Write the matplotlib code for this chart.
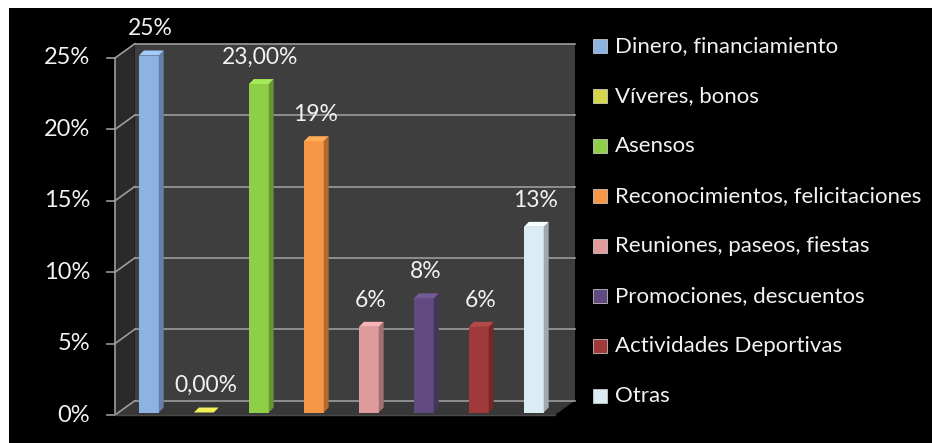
import matplotlib.pyplot as plt
from matplotlib.patches import Polygon, Rectangle
import matplotlib.colors as mcolors

# datos de la encuesta
categorias = ['Dinero, financiamiento', 'Víveres, bonos', 'Asensos',
              'Reconocimientos, felicitaciones', 'Reuniones, paseos, fiestas',
              'Promociones, descuentos', 'Actividades Deportivas', 'Otras']
valores = [25, 0, 23, 19, 6, 8, 6, 13]
etiquetas = ['25%', '0,00%', '23,00%', '19%', '6%', '8%', '6%', '13%']
colores = ['#8db3e2', '#d6d64a', '#8fcf48', '#f79646', '#e09c9c',
           '#604a80', '#a0393a', '#dbecf5']
marcas_y = [0, 5, 10, 15, 20, 25]
marcas_txt = ['0%', '5%', '10%', '15%', '20%', '25%']

plt.rcParams['font.family'] = ['Lato', 'DejaVu Sans']

W, H = 932, 443
fig = plt.figure(figsize=(W / 100, H / 100), dpi=100)
fig.patch.set_facecolor('white')
fig.patches.append(Rectangle((9 / W, 0), 1, 1 - 8 / H, transform=fig.transFigure,
                             facecolor='black', edgecolor='none', zorder=-5))

ax = fig.add_axes([115 / W, 1 - 415 / H, 440 / W, 357 / H])
ax.set_xlim(-0.5, 7.5)
ax.set_ylim(0, 25)
ax.axis('off')

# profundidad del efecto 3D
px, py = 0.36, 1.0
x0, x1 = -0.5, 7.5
ymax = marcas_y[-1]

# pared de fondo, pared izquierda y piso
ax.add_patch(Polygon([(x0 + px, py), (x1 + px, py), (x1 + px, ymax + py), (x0 + px, ymax + py)],
                     closed=True, facecolor='#3e3e3e', edgecolor='none', clip_on=False, zorder=1))
ax.add_patch(Polygon([(x0, 0), (x0 + px, py), (x0 + px, ymax + py), (x0, ymax)],
                     closed=True, facecolor='#2a2a2a', edgecolor='none', clip_on=False, zorder=1))
ax.add_patch(Polygon([(x0, 0), (x1, 0), (x1 + px, py), (x0 + px, py)],
                     closed=True, facecolor='#383838', edgecolor='none', clip_on=False, zorder=1))

# lineas de division
gcol = '#9c9c9c'
for t, s in zip(marcas_y, marcas_txt):
    ax.plot([x0 + px, x1 + px], [t + py, t + py], color=gcol, lw=1.2, clip_on=False, zorder=2)
    ax.plot([x0, x0 + px], [t, t + py], color=gcol, lw=1.2, clip_on=False, zorder=2)
    ax.plot([x0 - 0.15, x0], [t, t], color=gcol, lw=1.2, clip_on=False, zorder=2)
    ax.text(x0 - 0.45, t, s, ha='right', va='center', color='#f2f2f2',
            fontsize=17, clip_on=False)
ax.plot([x0, x0], [0, ymax], color=gcol, lw=1.2, clip_on=False, zorder=2)
ax.plot([x0, x1], [0, 0], color='#4a4a4a', lw=1, clip_on=False, zorder=2)

# barras con caras frontal, lateral y superior
w = 0.36
dx, dy = 0.09, 0.35
ox, oy = 0.16, 0.35
for i, (v, c, lab) in enumerate(zip(valores, colores, etiquetas)):
    base = mcolors.to_rgb(c)
    oscuro = tuple(k * 0.72 for k in base)
    claro = tuple(min(1, k * 1.08 + 0.04) for k in base)
    bx = i - w / 2 + ox - dx / 2
    by = oy - dy / 2
    ax.add_patch(Rectangle((bx, by), w, v, facecolor=c, edgecolor='none', zorder=4, clip_on=False))
    ax.add_patch(Polygon([(bx + w, by), (bx + w + dx, by + dy), (bx + w + dx, by + v + dy), (bx + w, by + v)],
                         closed=True, facecolor=oscuro, edgecolor='none', zorder=4, clip_on=False))
    ax.add_patch(Polygon([(bx, by + v), (bx + w, by + v), (bx + w + dx, by + v + dy), (bx + dx, by + v + dy)],
                         closed=True, facecolor=claro, edgecolor='none', zorder=4, clip_on=False))
    ax.text(bx + w / 2 + 0.03, v + oy + 1.7, lab, ha='center', va='center', color='#f2f2f2',
            fontsize=16.5, clip_on=False, zorder=5)

# leyenda
for i, (cat, c) in enumerate(zip(categorias, colores)):
    yc = 1 - (46 + 50 * i) / H
    fig.patches.append(Rectangle((593 / W, yc - 7 / H), 14 / W, 14 / H, transform=fig.transFigure,
                                 facecolor=c, edgecolor='#dddddd', lw=0.5, zorder=3))
    fig.text(615 / W, yc, cat, ha='left', va='center', color='#f2f2f2', fontsize=16)

fig.savefig('out.png', dpi=100, facecolor=fig.get_facecolor())
